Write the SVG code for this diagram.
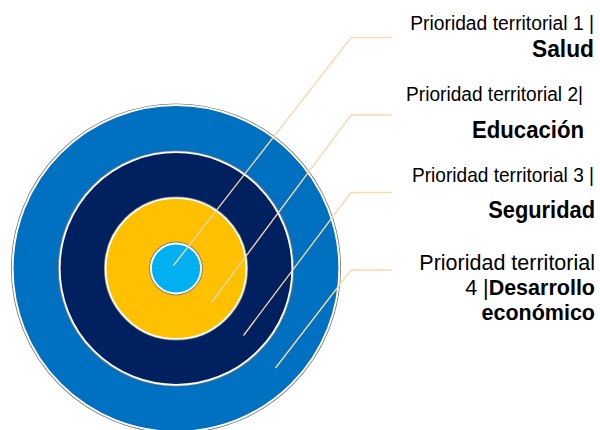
<svg xmlns="http://www.w3.org/2000/svg" width="600" height="430" viewBox="0 0 600 430">
<style>
.edge{stroke:#7f7f7f;stroke-width:1.2;fill:none}
.ring{stroke:#ffffff;stroke-width:1.8}
.lead{stroke:#FDD8AE;stroke-width:1.3;fill:none}
.t{font-family:"Liberation Sans",Arial,sans-serif;fill:#000000;text-anchor:end}
.r{font-size:21px}
.b{font-size:23.5px;font-weight:bold}
.r4{font-size:21.5px}
.b4{font-weight:bold}
</style>
<rect width="600" height="430" fill="#ffffff"/>
<g id="ring4">
<circle class="edge" cx="176" cy="268.5" r="164.5"/>
<circle class="ring" cx="176" cy="268.5" r="163.3" fill="#0070C0"/>
</g>
<g id="ring3">
<circle class="edge" cx="176" cy="268.5" r="117.5"/>
<circle class="ring" cx="176" cy="268.5" r="116.3" fill="#002060"/>
</g>
<g id="ring2">
<circle class="edge" cx="176" cy="268.5" r="71.5"/>
<circle class="ring" cx="176" cy="268.5" r="70.4" fill="#FFC000"/>
</g>
<g id="ring1">
<circle class="edge" cx="176" cy="268.5" r="26.3"/>
<circle class="ring" cx="176" cy="268.5" r="25" fill="#00B0F0"/>
</g>
<g id="connectors">
<polyline class="lead" points="173.5,265.5 351,37.5 392,37.5"/>
<polyline class="lead" points="211.5,302.5 351,115 392,115"/>
<polyline class="lead" points="243.5,335.5 351,192.5 392,192.5"/>
<polyline class="lead" points="275.5,368 351,270 392,270"/>
</g>
<g id="label1">
<text class="t r" transform="translate(594,30) scale(0.918,1)">Prioridad territorial 1 |</text>
<text class="t b" transform="translate(594,57) scale(0.969,1)">Salud</text>
</g>
<g id="label2">
<text class="t r" transform="translate(583,101) scale(0.91,1)">Prioridad territorial 2|</text>
<text class="t b" transform="translate(584,138) scale(0.943,1)">Educación</text>
</g>
<g id="label3">
<text class="t r" transform="translate(594,182) scale(0.909,1)">Prioridad territorial 3 |</text>
<text class="t b" transform="translate(595,218) scale(0.93,1)">Seguridad</text>
</g>
<g id="label4">
<text class="t r4" x="595" y="270">Prioridad territorial</text>
<text class="t r4" x="595" y="295">4 |<tspan class="b4">Desarrollo</tspan></text>
<text class="t r4 b4" x="595" y="320">económico</text>
</g>
</svg>
